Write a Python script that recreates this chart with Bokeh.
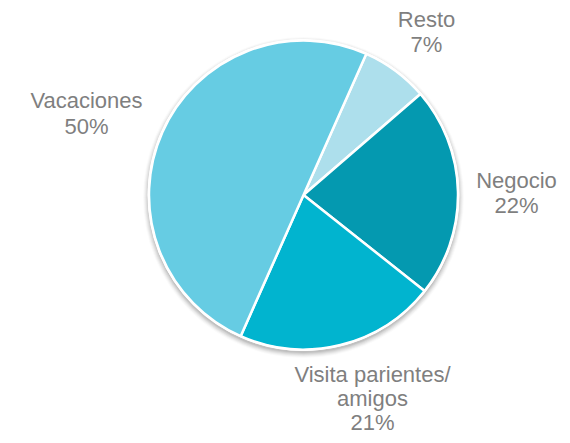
import math
from bokeh.plotting import figure
from bokeh.models import Range1d, ColumnDataSource
from bokeh.embed import file_html
from bokeh.resources import INLINE
from bokeh.core.properties import value

# ---- data ----
categories = ["Resto", "Negocio", "Visita parientes/\namigos", "Vacaciones"]
percents = [7, 22, 21, 50]
colors = ["#ADDFEC", "#0499B0", "#01B4CF", "#66CCE3"]

# ---- layout (pixel coordinates from top-left, y flipped) ----
W, H = 562, 435
def sy(y):
    return H - y

cx, cy, R = 303, 194.5, 154.5
first_angle = 24.0  # degrees clockwise from 12 o'clock

text_shift = 8  # compensates the renderer's baseline offset
label_pos = [(426, 27), (516, 188), (372, 382), (86, 108)]
line_gaps = [25, 25, 24, 26]

p = figure(width=W, height=H, output_backend="svg", toolbar_location=None,
           x_range=Range1d(0, W), y_range=Range1d(0, H),
           min_border=0, outline_line_color=None)
p.axis.visible = False
p.grid.visible = False
p.background_fill_color = "white"
p.border_fill_color = "white"

# soft shadow
for dr, a in [(6, 0.02), (5, 0.03), (4, 0.04), (3, 0.05), (2, 0.06), (1, 0.07)]:
    p.circle(x=[cx], y=[sy(cy + 2.5)], radius=R + dr, fill_color="black",
             fill_alpha=a, line_color=None)

total = float(sum(percents))
starts, ends = [], []
acc = first_angle
for v in percents:
    a0 = acc
    a1 = acc + v / total * 360.0
    starts.append(math.radians(90 - a0))
    ends.append(math.radians(90 - a1))
    acc = a1

src = ColumnDataSource(dict(start=starts, end=ends, color=colors))
p.wedge(x=cx, y=sy(cy), radius=R, start_angle="start", end_angle="end",
        direction="clock", fill_color="color", line_color="white", line_width=2.5,
        source=src)
p.circle(x=[cx], y=[sy(cy)], radius=R + 0.5, fill_color=None, line_color="white", line_width=2)

# labels
xs, ys, texts = [], [], []
for cat, v, (lx, ly), gap in zip(categories, percents, label_pos, line_gaps):
    lines = cat.split("\n") + [f"{v}%"]
    for k, t in enumerate(lines):
        xs.append(lx)
        ys.append(sy(ly + k * gap - text_shift))
        texts.append(t)

p.text(x=xs, y=ys, text=texts, text_align="center", text_baseline="alphabetic",
       text_font=value("Liberation Sans"), text_font_size="22px", text_color="#7F7F7F")

open("out.html", "w").write(file_html(p, INLINE))
